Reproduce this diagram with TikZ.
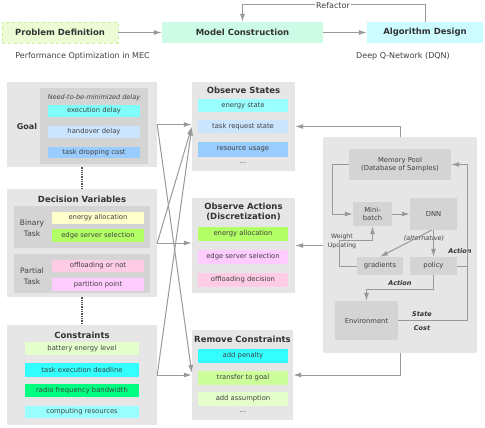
\documentclass[tikz,border=0pt]{standalone}
\usepackage{fontspec}
\setmainfont{DejaVu Sans}
\usetikzlibrary{arrows.meta}
\definecolor{outerg}{HTML}{E6E6E6}
\definecolor{innerg}{HTML}{D4D4D4}
\definecolor{arrg}{HTML}{999999}
\definecolor{txt}{HTML}{404040}
\definecolor{ttlc}{HTML}{333333}
\definecolor{dotc}{HTML}{555555}
\definecolor{pdc}{HTML}{EEFCD5}
\definecolor{pdb}{HTML}{C8EEA0}
\definecolor{mcc}{HTML}{CCFCE6}
\definecolor{adc}{HTML}{CCFCFF}
\definecolor{c1}{HTML}{80FFFA}
\definecolor{c2}{HTML}{CCE5FF}
\definecolor{c3}{HTML}{99CCFF}
\definecolor{c4}{HTML}{FFFFCC}
\definecolor{c5}{HTML}{B3FF66}
\definecolor{c6}{HTML}{FFCCE5}
\definecolor{c7}{HTML}{FFCCFF}
\definecolor{c8}{HTML}{E5FFCC}
\definecolor{c9}{HTML}{33FFFF}
\definecolor{c10}{HTML}{00FF80}
\definecolor{c11}{HTML}{99FFFF}
\definecolor{c12}{HTML}{CCFF99}
\newcommand{\rbox}[7]{\node[#6, minimum width={(#4-#2)*1pt}, minimum height={(#5-#3)*1pt}] (#1) at ({(#2+#4)/2},{(#3+#5)/2}) {#7};}
\begin{document}
\begin{tikzpicture}[x=1pt,y=-1pt,
  arr/.style={draw=arrg, line width=1pt, -{Latex[length=8pt,width=5pt]}},
  plainln/.style={draw=arrg, line width=1pt},
  dotln/.style={draw=dotc, line width=1.2pt, dash pattern=on 1.3pt off 1pt},
  obox/.style={fill=outerg, inner sep=0pt},
  ibox/.style={fill=innerg, inner sep=0pt},
  itembox/.style={inner sep=0pt, text=txt, font=\fontsize{6.8}{8}\selectfont},
  pbox/.style={fill=innerg, inner sep=0pt, align=center, text=txt, font=\fontsize{6.8}{8.5}\selectfont},
  ttl/.style={text=ttlc, font=\fontsize{8.5}{10.5}\selectfont\bfseries, align=center, inner sep=0pt},
  topbox/.style={inner sep=0pt, text=ttlc, font=\fontsize{8.5}{10}\selectfont\bfseries},
  captxt/.style={text=txt, font=\fontsize{8}{10}\selectfont, inner sep=0pt},
  lbl/.style={text=txt, font=\fontsize{7.5}{10.5}\selectfont, align=center, inner sep=0pt},
  lblsm/.style={text=txt, font=\fontsize{6.2}{9}\selectfont, align=center, inner sep=0pt},
  itl/.style={text=txt, font=\fontsize{6.5}{8}\selectfont\itshape, inner sep=0pt},
  bilbl/.style={text=ttlc, font=\fontsize{6.5}{8}\selectfont\bfseries\itshape, inner sep=0pt}]
\useasboundingbox (0,0) rectangle (485,428);

% top row
\rbox{pd}{2}{22}{118}{43}{topbox, fill=pdc, draw=pdb, dashed}{Problem Definition}
\rbox{mc}{162}{22}{323}{43}{topbox, fill=mcc}{Model Construction}
\rbox{ad}{367}{22}{483}{43}{topbox, fill=adc}{Algorithm Design}
\node[captxt] (cap1) at (82.5,56) {Performance Optimization in MEC};
\node[captxt] (cap2) at (403,56) {Deep Q-Network (DQN)};
\draw[arr] (pd.east) -- (mc.west);
\draw[arr] (mc.east) -- (ad.west);
\draw[arr] (ad.north) -- ++(0,-17) -| (mc.north);
\node[captxt, fill=white, inner sep=1pt] (refl) at (333,5.5) {Refactor};

% Goal
\rbox{goal}{7}{82}{157}{167}{obox}{}
\rbox{goalin}{40}{88}{148}{164}{ibox}{}
\node[ttl, font=\fontsize{8}{10}\selectfont\bfseries] (goalt) at (27,127) {Goal};
\node[itl] (need) at (94,98) {Need-to-be-minimized delay};
\rbox{g1}{48}{105}{140}{117}{itembox, fill=c1}{execution delay}
\rbox{g2}{48}{126}{140}{138}{itembox, fill=c2}{handover delay}
\rbox{g3}{48}{147}{140}{158}{itembox, fill=c3}{task dropping cost}

% Decision variables
\rbox{dv}{7}{189}{157}{297}{obox}{}
\node[ttl] (dvt) at (82,199) {Decision Variables};
\rbox{bin}{14}{206}{150}{248}{ibox}{}
\node[lbl] (bint) at (32,228) {Binary\\Task};
\rbox{d1}{52}{212}{144}{224}{itembox, fill=c4}{energy allocation}
\rbox{d2}{52}{229}{144}{242}{itembox, fill=c5}{edge server selection}
\rbox{par}{14}{254}{150}{293}{ibox}{}
\node[lbl] (part) at (32,276) {Partial\\Task};
\rbox{d3}{52}{260}{144}{272}{itembox, fill=c6}{offloading or not}
\rbox{d4}{52}{278}{144}{291}{itembox, fill=c7}{partition point}

% Constraints
\rbox{con}{7}{325}{157}{425}{obox}{}
\node[ttl] (cont) at (82,335) {Constraints};
\rbox{k1}{25}{342}{139}{355}{itembox, fill=c8}{battery energy level}
\rbox{k2}{25}{363}{139}{377}{itembox, fill=c9}{task execution deadline}
\rbox{k3}{25}{384}{139}{397}{itembox, fill=c10}{radio frequency bandwidth}
\rbox{k4}{25}{406}{139}{418}{itembox, fill=c11}{computing resources}

\draw[dotln] (goal.south) -- (dv.north);
\draw[dotln] (dv.south) -- (con.north);

% Observe states
\rbox{os}{192}{82}{295}{171}{obox}{}
\node[ttl] (ost) at (243.5,90) {Observe States};
\rbox{s1}{198}{99}{288}{112}{itembox, fill=c11}{energy state}
\rbox{s2}{198}{120}{288}{133}{itembox, fill=c2}{task request state}
\rbox{s3}{198}{142}{288}{157}{itembox, fill=c3}{resource usage}
\node[itembox] (sdots) at (243,163) {...};

% Observe actions
\rbox{oa}{192}{198}{295}{293}{obox}{}
\node[ttl] (oat) at (243.5,212) {Observe Actions\\(Discretization)};
\rbox{a1}{198}{227}{288}{241}{itembox, fill=c5}{energy allocation}
\rbox{a2}{198}{250}{288}{264}{itembox, fill=c7}{edge server selection}
\rbox{a3}{198}{273}{288}{287}{itembox, fill=c6}{offloading decision}

% Remove constraints
\rbox{rc}{192}{330}{293}{420}{obox}{}
\node[ttl] (rct) at (242.5,339) {Remove Constraints};
\rbox{r1}{198}{349}{288}{363}{itembox, fill=c9}{add penalty}
\rbox{r2}{198}{371}{288}{385}{itembox, fill=c12}{transfer to goal}
\rbox{r3}{198}{392}{288}{406}{itembox, fill=c8}{add assumption}
\node[itembox] (rdots) at (243,412) {...};

% left arrows
\draw[arr] (goal.east) -- (goal.east -| os.west);
\draw[arr] (goal.east) -- ([yshift=2pt]rc.west);
\draw[arr] (dv.east) -- (dv.east -| oa.west);
\draw[arr] (dv.east) -- (os.west);
\draw[arr] (con.east) -- (con.east -| rc.west);
\draw[arr] (con.east) -- ([yshift=-1pt]os.west);

% right panel
\rbox{panel}{323}{137}{477}{353}{obox, rounded corners=2pt}{}
\rbox{mem}{349}{149}{451}{180}{pbox}{Memory Pool\\(Database of Samples)}
\rbox{mini}{353}{202}{392}{226}{pbox}{Mini-\\batch}
\rbox{dnn}{410}{198}{457}{230}{pbox}{DNN}
\rbox{grad}{357}{257}{403}{275}{pbox}{gradients}
\rbox{pol}{410}{257}{457}{275}{pbox}{policy}
\rbox{env}{335}{301}{398}{340}{pbox, rounded corners=2pt}{Environment}

\node[lblsm] (wu) at (342,241.5) {Weight\\Updating};
\node[itl] (alt) at (424,238) {(alternative)};
\node[bilbl] (act1) at (460,251) {Action};
\node[bilbl] (act2) at (400,283) {Action};
\node[bilbl] (st) at (422,314) {State};
\node[bilbl] (cost) at (422,328) {Cost};

\draw[arr] (mem.west) -- ++(-16,0) |- (mini.west);
\draw[arr] (mini.east) -- (mini.east -| dnn.west);
\draw[arr] (dnn.south) -- (pol.north);
\draw[arr] ([xshift=-2pt]dnn.south) -- (grad.north);
\draw[arr] (grad.west) -- ++(-17,0) -- ++(0,-26) -| (mini.south);
\draw[arr] (pol.east) -- ++(10,0) |- (mem.east);
\draw[arr] (pol.south) -- ++(0,14) -| (env.north);
\draw[plainln] (env.east) -| ([xshift=10pt]pol.east);

\draw[arr] (panel.north) |- (os.east);
\draw[arr] (panel.west |- oa.east) -- (oa.east);
\draw[arr] (panel.south) |- (rc.east);
\end{tikzpicture}
\end{document}
